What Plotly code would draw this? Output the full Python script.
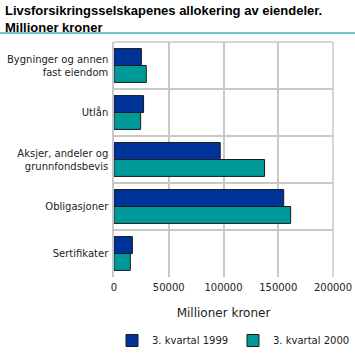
import plotly.graph_objects as go

categories = ["Bygninger og annen<br>fast eiendom", "Utlån", "Aksjer, andeler og<br>grunnfondsbevis", "Obligasjoner", "Sertifikater"]
series_names = ["3. kvartal 1999", "3. kvartal 2000"]
values_1999 = [25000, 27000, 97000, 155000, 16800]
values_2000 = [29500, 24300, 137500, 161300, 14900]
x_ticks = [0, 50000, 100000, 150000, 200000]

W, H = 355, 361
ML, MR, MT, MB = 114, 22, 42, 84
font_family = "DejaVu Sans, Verdana, sans-serif"
title_family = "Liberation Sans, Arial, sans-serif"

fig = go.Figure()
fig.add_trace(go.Bar(y=categories, x=values_1999, name=series_names[0], orientation="h",
                     marker=dict(color="#003399", line=dict(color="#1a1a1a", width=1))))
fig.add_trace(go.Bar(y=categories, x=values_2000, name=series_names[1], orientation="h",
                     marker=dict(color="#009999", line=dict(color="#1a1a1a", width=1))))

plot_h = H - MT - MB
plot_w = W - ML - MR
line_y = 1 + (MT - 33) / plot_h
fig.add_shape(type="line", xref="paper", yref="paper",
              x0=-ML / plot_w, x1=1 + MR / plot_w, y0=line_y, y1=line_y,
              line=dict(color="#66c9c2", width=2))
fig.add_shape(type="line", xref="paper", yref="paper", x0=0, x1=1, y0=1, y1=1,
              line=dict(color="#c8c8c8", width=1.5))
fig.add_shape(type="line", xref="paper", yref="paper", x0=1, x1=1, y0=0, y1=1,
              line=dict(color="#c8c8c8", width=1.5))

fig.add_annotation(text="<b>Livsforsikringsselskapenes allokering av eiendeler.<br>Millioner kroner</b>",
                   xref="paper", yref="paper", x=(3 - ML) / plot_w, y=1 + (MT - 1) / plot_h,
                   xanchor="left", yanchor="top", align="left", showarrow=False,
                   font=dict(family=title_family, size=13, color="#000"))

legend_px_x, legend_px_y = 112, 326
fig.update_layout(
    width=W, height=H,
    margin=dict(l=ML, r=MR, t=MT, b=MB, autoexpand=False),
    paper_bgcolor="white", plot_bgcolor="white",
    font=dict(family=font_family, size=10, color="#222"),
    barmode="group", bargap=0.28, bargroupgap=0,
    xaxis=dict(range=[0, 200000], tickvals=x_ticks, tickformat="d", showgrid=True,
               gridcolor="#c8c8c8", gridwidth=1.5, zeroline=False, showline=False,
               ticks="", ticklabelstandoff=3, title=dict(text="Millioner kroner", standoff=16)),
    yaxis=dict(autorange="reversed", tickson="boundaries", showgrid=True,
               gridcolor="#c8c8c8", gridwidth=1.5, showline=True, linecolor="#c8c8c8",
               linewidth=1.5, ticks="", ticklabelstandoff=2),
    legend=dict(orientation="h", xref="paper", x=(legend_px_x - ML) / plot_w, xanchor="left",
                yref="paper", y=-(legend_px_y - (H - MB)) / plot_h, yanchor="top",
                font=dict(size=10), entrywidth=76, entrywidthmode="pixels",
                itemwidth=30, tracegroupgap=0),
)

fig.write_html("out.html", config={"displayModeBar": False},
               post_script="document.body.style.margin='0';document.body.style.overflow='hidden';")
